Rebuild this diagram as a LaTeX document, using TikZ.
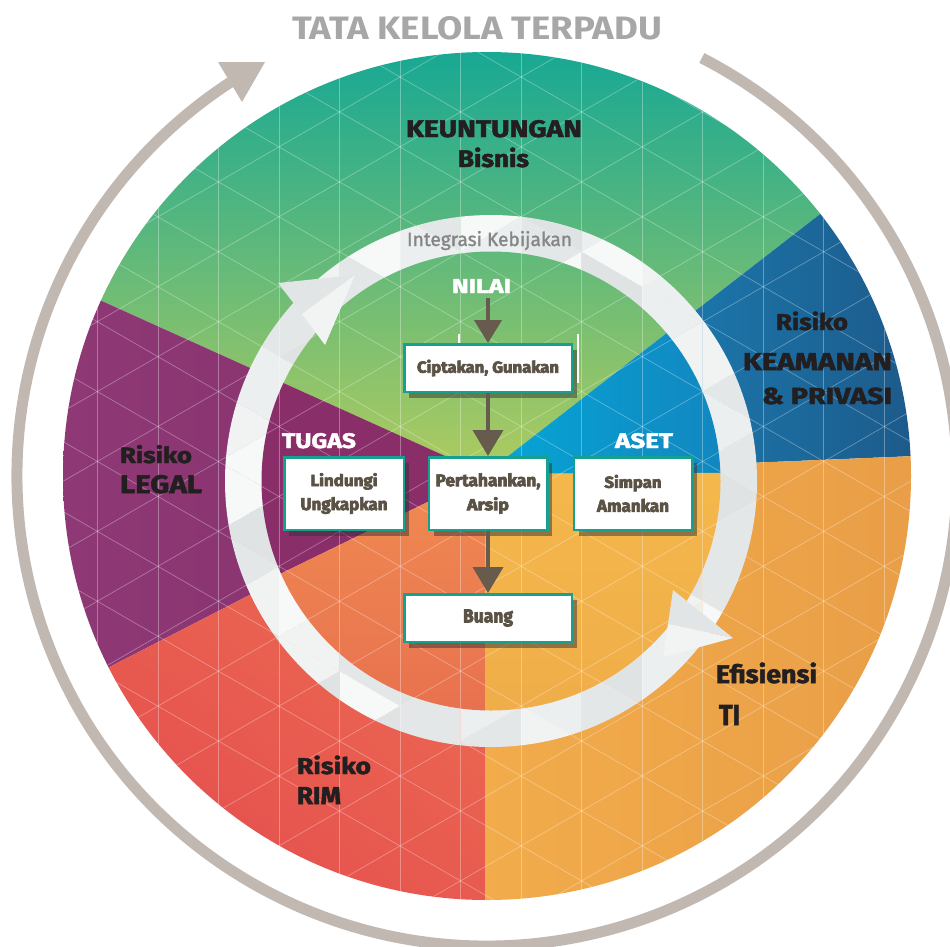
\documentclass[tikz,border=0pt]{standalone}
\usepackage{fontspec}
\setmainfont{Fira Sans}
\newfontfamily\heavyfont{Fira Sans}[BoldFeatures={FakeBold=4}]
\newfontfamily\semiheavyfont{Fira Sans}[BoldFeatures={FakeBold=2}]
\newfontfamily\medfont{Fira Sans}[UprightFeatures={FakeBold=1.5}]
\usepackage{graphicx}
\usetikzlibrary{arrows.meta,shadows,shadings}
\definecolor{ringgray}{HTML}{C2B8B2}
\definecolor{teal1}{HTML}{17A894}
\definecolor{green2}{HTML}{74B776}
\definecolor{lime3}{HTML}{B2CC5E}
\definecolor{blueA}{HTML}{1A86BC}
\definecolor{blueB}{HTML}{1D5A8B}
\definecolor{purpA}{HTML}{8E3975}
\definecolor{purpB}{HTML}{86306C}
\definecolor{redUL}{HTML}{E9634F}
\definecolor{redUR}{HTML}{EE7352}
\definecolor{redLL}{HTML}{E3464F}
\definecolor{redLR}{HTML}{E85B4F}
\definecolor{oraL}{HTML}{F2AC4B}
\definecolor{oraR}{HTML}{E99E47}
\definecolor{iblueA}{HTML}{05A7D7}
\definecolor{iblueB}{HTML}{1286BF}
\definecolor{ipurp}{HTML}{8A2E6A}
\definecolor{iredA}{HTML}{F08B51}
\definecolor{iredB}{HTML}{E8714F}
\definecolor{iyel}{HTML}{F4B84B}
\definecolor{iyel2}{HTML}{F0AD4A}
\definecolor{facet0}{HTML}{F7F8F8}
\definecolor{facet1}{HTML}{ECEFF0}
\definecolor{facet2}{HTML}{E4E7E8}
\definecolor{facet3}{HTML}{F1F3F3}
\definecolor{facet4}{HTML}{DFE3E4}
\definecolor{tealb}{HTML}{16A08F}
\definecolor{darktext}{HTML}{231F20}
\definecolor{boxtext}{HTML}{5B5246}
\definecolor{arrowcol}{HTML}{665B4C}
\definecolor{titlegray}{HTML}{A7A7A7}
\definecolor{integ}{HTML}{868686}
\definecolor{arA}{HTML}{E2E5E6}
\definecolor{arB}{HTML}{F2F4F4}
\tikzset{
  lab/.style={anchor=base west, inner sep=0pt, outer sep=0pt, font=\semiheavyfont\bfseries},
  gridline/.style={draw=white, opacity=0.32, line width=0.7pt},
  box/.style={draw=tealb, line width=2.5pt, fill=white, inner sep=0pt,
    font=\heavyfont\bfseries\fontsize{10}{24}\selectfont, text=boxtext, align=center,
    drop shadow={shadow xshift=5pt, shadow yshift=-6pt, opacity=0.5, fill=black!80}},
  arr/.style={draw=arrowcol, line width=4pt, -{Triangle[width=30pt,length=26pt]}},
  arrsmall/.style={draw=arrowcol, line width=4pt, -{Triangle[width=27pt,length=23pt]}}
}
\newcommand\sectorclip[2]{\clip[shift={(485,-474)}] (0,0) -- (#1:1300) -- ({(#1+#2)/2}:1300) -- (#2:1300) -- cycle;}
\begin{document}
\begin{tikzpicture}[x=1pt,y=1pt]
\useasboundingbox (0,0) rectangle (950,-946);
\fill[white] (0,0) rectangle (950,-946);
\coordinate (C) at (487,-476);
\coordinate (Ci) at (491,-481);

% outer governance arc
\draw[ringgray, line width=11pt] (C) ++(62.8:470) arc[start angle=62.8, end angle=-236.9, radius=470];
\fill[ringgray] (265,-62) -- (218,-62) -- (242,-102) -- cycle;

% big sectors
\begin{scope}
\clip (C) circle[radius=424];
\begin{scope}\sectorclip{37.8}{155.7}
\shade[top color=teal1, middle color=green2, bottom color=lime3] (40,-50) rectangle (930,-480);
\end{scope}
\begin{scope}\sectorclip{2.4}{37.8}
\shade[left color=blueA, right color=blueB] (560,-200) rectangle (915,-480);
\end{scope}
\begin{scope}\sectorclip{155.7}{207.2}
\shade[left color=purpA, right color=purpB] (60,-290) rectangle (490,-680);
\end{scope}
\begin{scope}\sectorclip{207.2}{270}
\shade[upper left=redUL, upper right=redUR, lower left=redLL, lower right=redLR] (60,-470) rectangle (490,-905);
\end{scope}
\begin{scope}\sectorclip{270}{362.4}
\shade[left color=oraL, right color=oraR] (480,-450) rectangle (915,-905);
\end{scope}
\end{scope}

% faceted ring
\begin{scope}
\clip (Ci) circle[radius=266];
\foreach \k in {-4,...,7}{
  \foreach \m in {-3,...,13}{
    \pgfmathsetmacro{\xa}{400+60.5*\k}
    \pgfmathsetmacro{\ya}{-(77+34.95*\k+69.9*\m)}
    \pgfmathtruncatemacro{\ia}{mod(abs(7*\k+13*\m+5*\k*\m),5)}
    \pgfmathtruncatemacro{\ib}{mod(abs(11*\k+5*\m+3*\k*\m+2),5)}
    \fill[facet\ia] (\xa,\ya) -- ++(0,-69.9) -- ++(60.5,34.95) -- cycle;
    \fill[facet\ib] ({\xa},{\ya-69.9}) -- ++(60.5,34.95) -- ++(0,-69.9) -- cycle;
  }
}
\end{scope}

% inner disk
\begin{scope}
\clip (Ci) circle[radius=229.5];
\begin{scope}\sectorclip{37.8}{155.7}
\shade[top color=teal1, middle color=green2, bottom color=lime3] (40,-50) rectangle (930,-480);
\end{scope}
\begin{scope}\sectorclip{0.3}{37.8}
\shade[left color=iblueA, right color=iblueB] (480,-250) rectangle (725,-480);
\end{scope}
\begin{scope}\sectorclip{155.7}{206}
\fill[ipurp] (250,-250) rectangle (490,-715);
\end{scope}
\begin{scope}\sectorclip{206}{270}
\shade[top color=iredA, bottom color=iredB] (250,-470) rectangle (490,-715);
\end{scope}
\begin{scope}\sectorclip{270}{360.3}
\shade[top color=iyel, bottom color=iyel2] (480,-470) rectangle (725,-715);
\end{scope}
\end{scope}

% triangle grid
\begin{scope}
\clip (C) circle[radius=424];
\foreach \k in {-7,...,9} \draw[gridline] ({400+60.5*\k},0) -- ({400+60.5*\k},-946);
\foreach \m in {-6,...,18}{
  \draw[gridline] (0,{-77-69.9*\m+400*0.57735}) -- (950,{-77-69.9*\m-550*0.57735});
  \draw[gridline] (0,{-77-69.9*\m-400*0.57735}) -- (950,{-77-69.9*\m+550*0.57735});
}
\end{scope}

% ring arrowheads
\fill[arA] (355,-275) -- (278,-283) -- (302,-314) -- cycle;
\fill[arB] (355,-275) -- (302,-314) -- (325,-345) -- cycle;
\fill[arA] (733,-638) -- (673,-590) -- (668,-624) -- cycle;
\fill[arB] (733,-638) -- (668,-624) -- (663,-657) -- cycle;

% faint guide ticks
\draw[white, line width=1.5pt] (459,-334) -- (459,-343);
\draw[white, line width=1.5pt] (578,-334) -- (578,-383);

% labels
\node[lab, font=\bfseries, text=titlegray] (title) at (292,-39) {\resizebox{370pt}{23pt}{TATA KELOLA TERPADU}};
\node[lab, text=darktext] (keu) at (406,-137) {\resizebox{176pt}{17pt}{KEUNTUNGAN}};
\node[lab, text=darktext] (bisnis) at (458,-167) {\resizebox{71pt}{19.5pt}{Bisnis}};
\node[lab, text=darktext] (risk1) at (776,-330) {\resizebox{72pt}{18.5pt}{Risiko}};
\node[lab, text=darktext] (keam) at (743,-370) {\resizebox{149pt}{17pt}{KEAMANAN}};
\node[lab, text=darktext] (priv) at (762,-404) {\resizebox{130pt}{16.5pt}{\& PRIVASI}};
\node[lab, text=darktext] (risk2) at (120,-463) {\resizebox{72pt}{18pt}{Risiko}};
\node[lab, text=darktext] (legal) at (120,-493) {\resizebox{82pt}{18pt}{LEGAL}};
\node[lab, text=darktext] (risk3) at (297,-774) {\resizebox{74pt}{18.5pt}{Risiko}};
\node[lab, text=darktext] (rim) at (297,-804) {\resizebox{44pt}{17pt}{RIM}};
\node[lab, text=darktext] (efis) at (716,-683) {\resizebox{101pt}{20.5pt}{Efisiensi}};
\node[lab, text=darktext] (ti) at (719,-725) {\resizebox{21pt}{20pt}{TI}};
\node[lab, font=\medfont, text=integ] (integ) at (407,-246) {\resizebox{165pt}{15pt}{Integrasi Kebijakan}};
\node[lab, text=white] (nilai) at (452,-293) {\resizebox{59pt}{14pt}{NILAI}};
\node[lab, text=white] (tugas) at (282,-448) {\resizebox{74pt}{15pt}{TUGAS}};
\node[lab, text=white] (aset) at (615,-448) {\resizebox{58pt}{15pt}{ASET}};

% boxes
\node[box, minimum width=167.5pt, minimum height=47.5pt] (cipta) at (488,-368) {\resizebox{142pt}{13pt}{Ciptakan, Gunakan}};
\node[box, minimum width=119.5pt, minimum height=72.5pt] (lind) at (344,-493.5) {\resizebox{67pt}{13pt}{Lindungi}\\\resizebox{87pt}{13pt}{Ungkapkan}};
\node[box, minimum width=118.5pt, minimum height=72.5pt] (pert) at (488,-493.5) {\resizebox{105pt}{13pt}{Pertahankan,}\\\resizebox{42pt}{13pt}{Arsip}};
\node[box, minimum width=118.5pt, minimum height=72.5pt] (simp) at (633,-493.5) {\resizebox{57pt}{13pt}{Simpan}\\\resizebox{72pt}{13pt}{Amankan}};
\node[box, minimum width=167.5pt, minimum height=47.5pt] (buang) at (488,-618) {\resizebox{50pt}{13pt}{Buang}};

% arrows
\coordinate (n0) at (488,-298);
\draw[arrsmall] (n0) -- (cipta.north);
\draw[arr] (cipta.south) -- (pert.north);
\draw[arr] (pert.south) -- (buang.north);
\end{tikzpicture}
\end{document}
